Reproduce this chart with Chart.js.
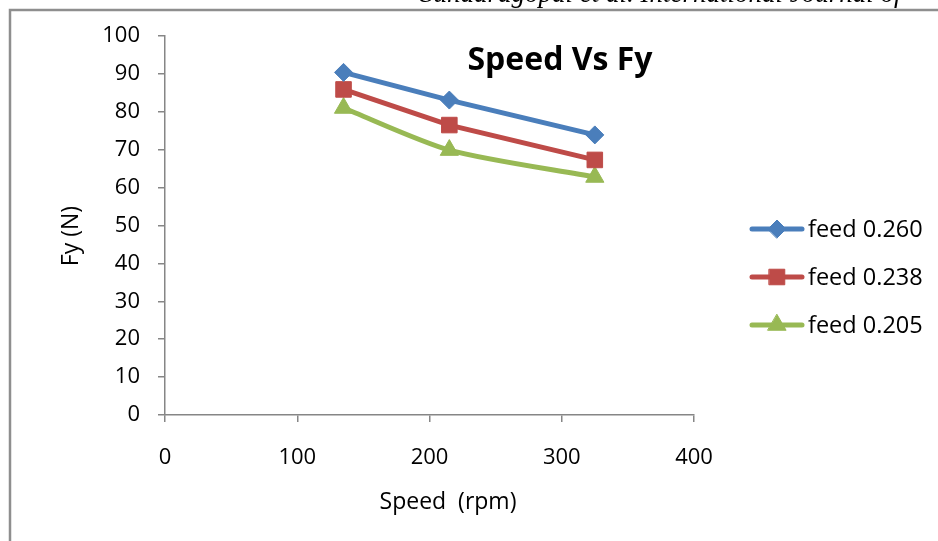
<!DOCTYPE html>
<html>
<head>
<meta charset="utf-8">
<script src="https://cdn.jsdelivr.net/npm/chart.js@4/dist/chart.umd.min.js"></script>
<style>
  html, body { margin: 0; padding: 0; background: #ffffff; overflow: hidden; }
  #wrap { position: relative; width: 938px; height: 541px; }
</style>
</head>
<body>
<div id="wrap"><canvas id="c" width="938" height="541"></canvas></div>
<script>
// Spindle speed (rpm) and measured force Fy (N) for three feed rates
const speeds = [135, 215, 325];
const feed260 = [90.4, 83.1, 73.9];
const feed238 = [85.9, 76.5, 67.3];
const feed205 = [81.0, 69.9, 62.8];
const seriesNames = ['feed 0.260', 'feed 0.238', 'feed 0.205'];
const xTickValues = [0, 100, 200, 300, 400];
const yTickValues = [0, 10, 20, 30, 40, 50, 60, 70, 80, 90, 100];

const chartTitle = 'Speed Vs Fy';
const xTitle = 'Speed  (rpm)';
const yTitle = 'Fy (N)';
const headerText = 'Sundaragopal et al. International Journal of';

const FONT = '"Open Sans", "Liberation Sans", sans-serif';
const AXIS_GREY = '#868686';

function toPoints(xs, ys) {
  return xs.map((x, i) => ({ x: x, y: ys[i] }));
}

// Page frame, header rule, titles and a line+marker legend
const decorations = {
  id: 'decorations',
  beforeDraw(chart) {
    const ctx = chart.ctx;
    ctx.save();
    ctx.fillStyle = '#ffffff';
    ctx.fillRect(0, 0, chart.width, chart.height);
    // running header of the page, cut by the top edge
    ctx.fillStyle = '#000';
    ctx.font = 'italic 27px "Liberation Serif", serif';
    ctx.textBaseline = 'alphabetic';
    ctx.textAlign = 'left';
    ctx.fillText(headerText, 420, 1.5);
    // frame
    ctx.strokeStyle = '#8e8e8e';
    ctx.lineWidth = 2.5;
    ctx.beginPath();
    ctx.moveTo(10, chart.height + 5);
    ctx.lineTo(10, 10);
    ctx.lineTo(chart.width + 5, 10);
    ctx.stroke();
    ctx.restore();
  },
  afterDraw(chart) {
    const ctx = chart.ctx;
    ctx.save();
    ctx.fillStyle = '#000';
    // chart title
    ctx.font = 'bold 32px ' + FONT;
    ctx.textAlign = 'center';
    ctx.textBaseline = 'alphabetic';
    ctx.fillText(chartTitle, 560, 70);
    // x axis title
    ctx.font = '23px ' + FONT;
    ctx.fillText(xTitle, 448, 509);
    // y axis title
    ctx.save();
    ctx.translate(78, 236);
    ctx.rotate(-Math.PI / 2);
    ctx.fillText(yTitle, 0, 0);
    ctx.restore();
    // legend
    const rows = [229, 277, 325];
    chart.data.datasets.forEach((ds, i) => {
      const y = rows[i];
      ctx.strokeStyle = ds.borderColor;
      ctx.lineWidth = ds.borderWidth;
      ctx.lineCap = 'round';
      ctx.beginPath();
      ctx.moveTo(752, y);
      ctx.lineTo(802, y);
      ctx.stroke();
      ctx.fillStyle = ds.pointBackgroundColor;
      ctx.strokeStyle = ds.pointBorderColor;
      ctx.lineWidth = ds.pointBorderWidth;
      Chart.helpers.drawPoint(ctx, {
        pointStyle: ds.pointStyle,
        radius: ds.pointRadius,
        rotation: 0,
        borderWidth: ds.pointBorderWidth
      }, 777, y);
      ctx.fillStyle = '#000';
      ctx.font = '23.5px ' + FONT;
      ctx.textAlign = 'left';
      ctx.textBaseline = 'middle';
      ctx.fillText(ds.label, 808, y + 1);
    });
    ctx.restore();
  }
};

function series(label, ys, color, style, radius, tension) {
  return {
    label: label,
    data: toPoints(speeds, ys),
    borderColor: color,
    backgroundColor: color,
    borderWidth: 5,
    pointStyle: style,
    pointRadius: radius,
    pointHoverRadius: radius,
    pointBackgroundColor: color,
    pointBorderColor: color,
    pointBorderWidth: 1,
    tension: tension,
    fill: false
  };
}

new Chart(document.getElementById('c'), {
  type: 'line',
  data: {
    datasets: [
      series(seriesNames[0], feed260, '#4A7EBB', 'rectRot', 9, 0),
      series(seriesNames[1], feed238, '#BE4B48', 'rect', 11, 0),
      series(seriesNames[2], feed205, '#98B954', 'triangle', 10.5, 0.25)
    ]
  },
  options: {
    responsive: false,
    animation: false,
    devicePixelRatio: 1,
    layout: { padding: { top: 36, right: 244, left: 0, bottom: 0 } },
    plugins: {
      legend: { display: false },
      title: { display: false },
      tooltip: { enabled: false }
    },
    scales: {
      x: {
        type: 'linear',
        position: 'bottom',
        min: xTickValues[0],
        max: xTickValues[xTickValues.length - 1],
        afterBuildTicks(scale) { scale.ticks = xTickValues.map(v => ({ value: v })); },
        afterFit(scale) { scale.height = 541 - 415; },
        ticks: { color: '#000', font: { family: FONT, size: 22 }, padding: 23, maxRotation: 0 },
        grid: { drawOnChartArea: false, drawTicks: true, tickLength: 7, color: AXIS_GREY, lineWidth: 1.5 },
        border: { color: AXIS_GREY, width: 1.5 }
      },
      y: {
        type: 'linear',
        min: yTickValues[0],
        max: yTickValues[yTickValues.length - 1],
        afterBuildTicks(scale) { scale.ticks = yTickValues.map(v => ({ value: v })); },
        afterFit(scale) { scale.width = 165; },
        ticks: { color: '#000', font: { family: FONT, size: 22 }, padding: 18 },
        grid: { drawOnChartArea: false, drawTicks: true, tickLength: 7, color: AXIS_GREY, lineWidth: 1.5 },
        border: { color: AXIS_GREY, width: 1.5 }
      }
    }
  },
  plugins: [decorations]
});
</script>
</body>
</html>
